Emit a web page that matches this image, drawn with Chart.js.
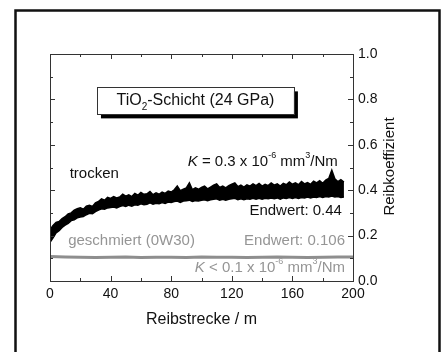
<!DOCTYPE html>
<html><head><meta charset="utf-8">
<script src="https://cdn.jsdelivr.net/npm/chart.js@4/dist/chart.umd.min.js"></script>
<style>html,body{margin:0;padding:0;background:#fff;}canvas{display:block;}</style>
</head><body>
<canvas id="c" width="442" height="352"></canvas>
<script>
// ---- data ----
const distDry = [0,2,4,6,8,10,12,14,16,18,20,22,24,26,28,30,32,34,36,38,40,42,44,46,48,50,52,54,56,58,60,62,64,66,68,70,72,74,76,78,80,82,84,86,88,90,92,94,96,98,100,102,104,106,108,110,112,114,116,118,120,122,124,126,128,130,132,134,136,138,140,142,144,146,148,150,152,154,156,158,160,162,164,166,168,170,172,174,176,178,180,182,184,186,188,190,192,194];
const dryUpper = [.225,.245,.258,.262,.275,.283,.296,.300,.312,.318,.322,.316,.330,.334,.328,.344,.350,.362,.356,.368,.364,.372,.366,.370,.382,.374,.380,.372,.386,.378,.390,.382,.384,.394,.380,.388,.382,.392,.386,.396,.392,.402,.418,.398,.404,.410,.432,.402,.410,.404,.412,.418,.406,.414,.422,.428,.412,.418,.410,.420,.426,.432,.416,.422,.414,.424,.418,.428,.420,.430,.418,.426,.420,.432,.422,.428,.418,.430,.424,.436,.426,.432,.424,.438,.428,.434,.426,.440,.432,.442,.430,.444,.452,.488,.450,.438,.446,.436];
const dryLower = [.170,.190,.212,.222,.236,.246,.254,.266,.270,.278,.282,.284,.292,.298,.296,.306,.312,.318,.316,.322,.324,.326,.322,.328,.332,.328,.334,.330,.336,.334,.340,.336,.338,.344,.338,.342,.340,.346,.342,.348,.346,.350,.352,.346,.352,.354,.356,.350,.354,.352,.356,.358,.354,.358,.360,.362,.356,.360,.356,.360,.362,.364,.358,.362,.358,.362,.360,.364,.360,.364,.360,.364,.362,.366,.362,.366,.360,.366,.364,.368,.364,.368,.364,.368,.366,.370,.366,.370,.368,.372,.368,.372,.370,.374,.370,.372,.368,.370];
const distLub = [0,10,20,30,40,50,60,70,80,90,100,110,120,130,140,150,160,170,180,190,200];
const lubValues = [.108,.106,.105,.104,.105,.106,.104,.105,.105,.104,.106,.105,.105,.104,.105,.106,.105,.104,.105,.106,.106];
const xTickValues = [0,40,80,120,160,200];
const yTickValues = [0,0.2,0.4,0.6,0.8,1.0];
const xTitle = 'Reibstrecke / m';
const yTitle = 'Reibkoeffizient';

const FONT = '"Liberation Sans", Arial, Helvetica, sans-serif';
const GRAY = '#959595';

const annotations = [
  {x: 13, y: 0.47, align: 'left', color: '#111', parts: [{t: 'trocken'}]},
  {x: 190, y: 0.523, align: 'right', color: '#111', parts: [{t: 'K', it: true}, {t: ' = 0.3 x 10'}, {t: '-6', sup: true}, {t: ' mm'}, {t: '3', sup: true}, {t: '/Nm'}]},
  {x: 192.7, y: 0.308, align: 'right', color: '#111', parts: [{t: 'Endwert: 0.44'}]},
  {x: 12, y: 0.176, align: 'left', color: GRAY, parts: [{t: 'geschmiert (0W30)'}]},
  {x: 194.7, y: 0.176, align: 'right', color: GRAY, parts: [{t: 'Endwert: 0.106'}]},
  {x: 194.7, y: 0.057, align: 'right', color: GRAY, parts: [{t: 'K', it: true}, {t: ' < 0.1 x 10'}, {t: '-6', sup: true}, {t: ' mm'}, {t: '3', sup: true}, {t: '/Nm'}]}
];
const titleBox = {x0: 31, x1: 161, y0: 0.853, y1: 0.734, parts: [{t: 'TiO'}, {t: '2', sub: true}, {t: '-Schicht (24 GPa)'}]};

function drawRich(ctx, parts, x, y, align, color, size) {
  const f = p => (p.it ? 'italic ' : '') + ((p.sup || p.sub) ? Math.round(size * 0.62) : size) + 'px ' + FONT;
  let total = 0;
  parts.forEach(p => { ctx.font = f(p); p.w = ctx.measureText(p.t).width; total += p.w; });
  let cx = align === 'right' ? x - total : align === 'center' ? x - total / 2 : x;
  ctx.fillStyle = color; ctx.textAlign = 'left'; ctx.textBaseline = 'middle';
  parts.forEach(p => {
    ctx.font = f(p);
    const dy = p.sup ? -size * 0.42 : p.sub ? size * 0.38 : 0;
    ctx.fillText(p.t, cx, y + dy);
    cx += p.w;
  });
}

const decor = {
  id: 'decor',
  beforeDraw(chart) {
    const ctx = chart.ctx;
    ctx.save();
    ctx.fillStyle = '#fff';
    ctx.fillRect(0, 0, chart.width, chart.height);
    ctx.strokeStyle = '#111'; ctx.lineWidth = 2.5;
    ctx.strokeRect(15.5, 10.5, 424, 360);
    ctx.restore();
  },
  afterDraw(chart) {
    const ctx = chart.ctx, xs = chart.scales.x, ys = chart.scales.y, a = chart.chartArea;
    ctx.save();
    ctx.strokeStyle = '#333'; ctx.lineWidth = 1;
    ctx.strokeRect(Math.round(a.left) + 0.5, Math.round(a.top) + 0.5, Math.round(a.right - a.left), Math.round(a.bottom - a.top));
    ctx.beginPath();
    for (let v = 0; v <= 200; v += 20) {
      const px = Math.round(xs.getPixelForValue(v)) + 0.5, len = v % 40 === 0 ? 5 : 3;
      ctx.moveTo(px, a.bottom); ctx.lineTo(px, a.bottom - len);
      ctx.moveTo(px, a.top); ctx.lineTo(px, a.top + len);
    }
    for (let i = 0; i <= 10; i++) {
      const v = i / 10, py = Math.round(ys.getPixelForValue(v)) + 0.5, len = i % 2 === 0 ? 5 : 3;
      ctx.moveTo(a.left, py); ctx.lineTo(a.left + len, py);
      ctx.moveTo(a.right, py); ctx.lineTo(a.right - len, py);
    }
    ctx.stroke();
    // annotations
    annotations.forEach(an => drawRich(ctx, an.parts, xs.getPixelForValue(an.x), ys.getPixelForValue(an.y), an.align, an.color, 15));
    // title box with shadow
    const bx0 = xs.getPixelForValue(titleBox.x0), bx1 = xs.getPixelForValue(titleBox.x1);
    const by0 = ys.getPixelForValue(titleBox.y0), by1 = ys.getPixelForValue(titleBox.y1);
    ctx.fillStyle = '#000';
    ctx.fillRect(bx0 + 4, by0 + 4, bx1 - bx0, by1 - by0);
    ctx.fillStyle = '#fff';
    ctx.fillRect(bx0, by0, bx1 - bx0, by1 - by0);
    ctx.strokeStyle = '#333'; ctx.lineWidth = 1;
    ctx.strokeRect(Math.round(bx0) + 0.5, Math.round(by0) + 0.5, Math.round(bx1 - bx0), Math.round(by1 - by0));
    drawRich(ctx, titleBox.parts, (bx0 + bx1) / 2, (by0 + by1) / 2, 'center', '#111', 16);
    // y axis title (reads bottom to top)
    ctx.translate(a.right + 37, (a.top + a.bottom) / 2 - 1);
    ctx.rotate(-Math.PI / 2);
    ctx.font = '15px ' + FONT; ctx.fillStyle = '#111'; ctx.textAlign = 'center'; ctx.textBaseline = 'middle';
    ctx.fillText(yTitle, 0, 0);
    ctx.restore();
  }
};

new Chart(document.getElementById('c'), {
  type: 'line',
  data: {
    datasets: [
      {data: distDry.map((d, i) => ({x: d, y: dryLower[i]})), borderColor: '#000', borderWidth: 1.5, pointRadius: 0, fill: false},
      {data: distDry.map((d, i) => ({x: d, y: dryUpper[i]})), borderColor: '#000', borderWidth: 1.5, pointRadius: 0, fill: '-1', backgroundColor: '#000'},
      {data: distLub.map((d, i) => ({x: d, y: lubValues[i]})), borderColor: '#8e8e8e', borderWidth: 3, pointRadius: 0, fill: false}
    ]
  },
  options: {
    responsive: false, animation: false,
    layout: {padding: {left: 50, top: 54, right: 29, bottom: 21}},
    plugins: {legend: {display: false}, tooltip: {enabled: false}},
    elements: {line: {tension: 0}},
    scales: {
      x: {
        type: 'linear', position: 'bottom', min: 0, max: 200,
        afterBuildTicks: s => { s.ticks = xTickValues.map(v => ({value: v})); },
        ticks: {font: {family: FONT, size: 14}, color: '#111', padding: 5, maxRotation: 0},
        grid: {display: true, drawOnChartArea: false, drawTicks: false},
        border: {display: true, color: '#333'},
        title: {display: true, text: xTitle, font: {family: FONT, size: 16}, color: '#111', padding: {top: 0, bottom: 2}},
        afterFit: s => { s.height = 50; }
      },
      y: {
        type: 'linear', position: 'right', min: 0, max: 1,
        afterBuildTicks: s => { s.ticks = yTickValues.map(v => ({value: v})); },
        ticks: {font: {family: FONT, size: 14}, color: '#111', padding: 5, callback: v => v.toFixed(1)},
        grid: {display: true, drawOnChartArea: false, drawTicks: false},
        border: {display: true, color: '#333'},
        afterFit: s => { s.width = 60; }
      }
    }
  },
  plugins: [decor]
});
</script>
</body></html>
